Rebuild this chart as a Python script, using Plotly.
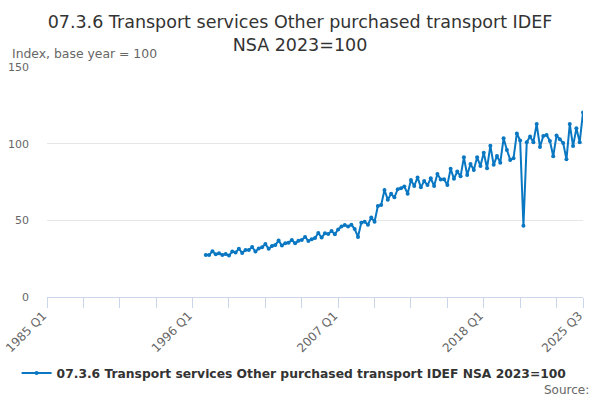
import plotly.graph_objects as go

# quarterly index, 1997 Q1 .. 2025 Q3
start_year = 1997
values = [
    27.4, 27.4, 29.8, 27.8,
    28.5, 27.4, 28.0, 27.0,
    29.6, 29.0, 31.5, 28.7,
    30.7, 30.7, 32.6, 29.6,
    31.7, 32.4, 34.5, 31.5,
    33.3, 33.9, 36.8, 33.6,
    35.0, 35.4, 37.2, 35.0,
    36.7, 37.2, 39.2, 36.6,
    37.6, 38.5, 41.8, 38.8,
    41.5, 41.1, 43.0, 41.0,
    44.0, 45.9, 47.0, 45.9,
    47.2, 44.3, 39.2, 48.5,
    49.1, 47.2, 51.8, 49.1,
    59.3, 60.0, 69.8, 63.5,
    67.3, 65.0, 70.3, 71.0,
    72.0, 67.4, 76.3, 72.4,
    78.0, 71.5, 75.6, 73.0,
    77.4, 72.4, 80.2, 76.6,
    76.8, 73.1, 83.6, 77.1,
    81.8, 78.7, 91.1, 79.6,
    86.7, 82.9, 91.1, 85.5,
    94.1, 84.0, 98.7, 86.2,
    92.0, 87.6, 103.5, 95.9,
    89.4, 90.5, 106.7, 102.0,
    46.5, 101.0, 104.6, 101.0,
    112.8, 97.8, 105.0, 105.7,
    101.8, 91.8, 105.3, 102.9,
    100.5, 89.8, 112.8, 98.4,
    110.0, 101.0, 120.4,
]
axis_start, axis_end = "1985 Q1", "2025 Q3"
tick_step = 11
label_every = 4

title = "07.3.6 Transport services Other purchased transport IDEF<br>NSA 2023=100"
series_name = "07.3.6 Transport services Other purchased transport IDEF NSA 2023=100"


def q_index(label):
    y, q = label.split(" Q")
    return (int(y) - 1985) * 4 + int(q) - 1


def q_label(i):
    return f"{1985 + i // 4} Q{i % 4 + 1}"


first = (start_year - 1985) * 4
xs = list(range(first, first + len(values)))
last = q_index(axis_end)

tickvals = list(range(0, last, tick_step)) + [last]
ticktext = [q_label(v) if (v // tick_step) % label_every == 0 else "" for v in tickvals]
ticktext[-1] = q_label(last)

blue = "#0a77c2"
fig = go.Figure()
fig.add_trace(go.Scatter(
    x=xs, y=values, mode="lines+markers", name=series_name,
    line=dict(color=blue, width=2),
    marker=dict(color=blue, size=4),
))

fig.update_layout(
    width=600, height=400,
    margin=dict(l=47, r=17, t=67, b=103),
    paper_bgcolor="white", plot_bgcolor="white",
    font=dict(family="DejaVu Sans", color="#666666", size=12),
    title=dict(text=title, x=0.5, xanchor="center", y=0.93, yanchor="top",
               font=dict(size=17.5, color="#333333")),
    showlegend=True,
    legend=dict(orientation="h", x=0.461, xanchor="center", y=-0.33, yanchor="middle",
                font=dict(size=12.3, color="#333333", weight="bold"),
                itemwidth=30),
)
fig.update_xaxes(
    range=[0, last], tickmode="array", tickvals=tickvals, ticktext=ticktext,
    tickangle=-45, ticks="outside", ticklen=10, tickcolor="#ccd6eb",
    showline=True, linecolor="#ccd6eb", showgrid=False, zeroline=False,
    ticklabelshift=-4, ticklabelstandoff=-4, automargin=False,
    tickfont=dict(size=12, color="#666666"),
)
fig.update_yaxes(
    range=[0, 150], tickvals=[0, 50, 100, 150],
    gridcolor="#e6e6e6", zeroline=False, showline=False, automargin=False,
    ticklabelstandoff=17, tickfont=dict(size=11, color="#666666"),
)
fig.add_annotation(text="Index, base year = 100", xref="paper", yref="paper",
                   x=-0.069, y=1.058, xanchor="left", yanchor="middle",
                   showarrow=False, font=dict(size=12.4, color="#666666"))
fig.add_annotation(text="Source:", xref="paper", yref="paper",
                   x=1.015, y=-0.405, xanchor="right", yanchor="middle",
                   showarrow=False, font=dict(size=12, color="#666666"))

fig.write_html("out.html", config={"displayModeBar": False},
               post_script="document.body.style.margin='0';")
